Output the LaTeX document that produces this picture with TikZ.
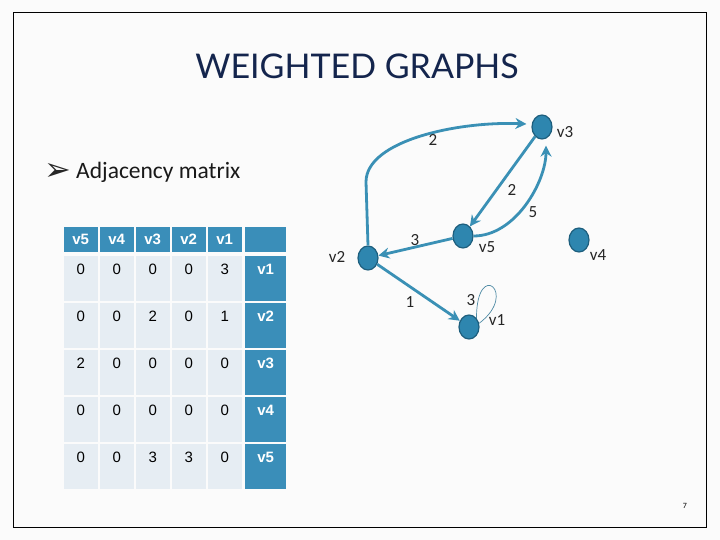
\documentclass[tikz,border=0pt]{standalone}
\usepackage{fontspec}
\setmainfont{Carlito}
\newfontfamily\arialf{Liberation Sans}
\newfontfamily\titlef{Lato}
\newfontfamily\symf{DejaVu Sans}
\usetikzlibrary{arrows.meta,shapes.geometric}
\definecolor{edgeblue}{HTML}{3A90B5}
\definecolor{nodefill}{HTML}{2E86AF}
\definecolor{nodedraw}{HTML}{1D5E7D}
\definecolor{hdrblue}{HTML}{3A8EB9}
\definecolor{cellgray}{HTML}{E6EDF3}
\definecolor{titlenavy}{HTML}{14254D}
\tikzset{
  vert/.style={ellipse, fill=nodefill, draw=nodedraw, line width=1.2pt, minimum width=20pt, minimum height=24pt, inner sep=0pt},
  vlab/.style={font=\fontsize{17}{19}\selectfont, text=black!85, inner sep=0pt},
  wlab/.style={font=\fontsize{17}{19}\selectfont, text=black!85, inner sep=0pt},
  edge/.style={draw=edgeblue, line width=2.8pt, -{Stealth[length=11pt,width=11pt]}},
  loopline/.style={draw=edgeblue!70!gray, line width=0.7pt},
  cellbase/.style={anchor=north west, inner sep=0pt, minimum width=34pt, text height=18pt},
  hdr/.style={cellbase, fill=hdrblue, text=white, minimum height=25pt, text depth=7pt, font=\arialf\bfseries\fontsize{15}{17}\selectfont},
  cellb/.style={cellbase, fill=cellgray, text=black, minimum height=45pt, text depth=27pt, font=\arialf\fontsize{15}{17}\selectfont},
  rowh/.style={cellbase, fill=hdrblue, text=white, minimum width=41pt, minimum height=45pt, text depth=27pt, font=\arialf\bfseries\fontsize{15}{17}\selectfont}
}
\begin{document}
\begin{tikzpicture}[x=1pt,y=-1pt]
\useasboundingbox (0,0) rectangle (720,540);
\fill[gray!3] (0,0) rectangle (720,540);
\draw[line width=1pt] (13,13) rectangle (706,527);
% title
\node[font=\titlef\fontsize{34}{40}\selectfont, text=titlenavy] (title) at (357,66) {WEIGHTED GRAPHS};
% bullet
\node[font=\symf\fontsize{32}{34}\selectfont, inner sep=0pt, text=black!85] (bul) at (58,171.5) {➢};
\node[anchor=west, inner sep=0pt, font=\fontsize{23.5}{26}\selectfont, text=black!90] (adj) at (76,172) {Adjacency matrix};
% table header
\foreach \lab [count=\j] in {v5,v4,v3,v2,v1}{
  \node[hdr] (h\j) at ({63.5+(\j-1)*36},226.7) {\lab};
}
\node[hdr, minimum width=41pt] (h6) at (245,226.7) {};
% table body
\foreach \a/\b/\c/\d/\e/\f [count=\i] in {0/0/0/0/3/v1, 0/0/2/0/1/v2, 2/0/0/0/0/v3, 0/0/0/0/0/v4, 0/0/3/3/0/v5}{
  \pgfmathsetmacro\yy{256+(\i-1)*47}
  \node[cellb] (c\i-1) at (63.5,\yy) {\a};
  \node[cellb] (c\i-2) at (99.5,\yy) {\b};
  \node[cellb] (c\i-3) at (135.5,\yy) {\c};
  \node[cellb] (c\i-4) at (171.5,\yy) {\d};
  \node[cellb] (c\i-5) at (207.5,\yy) {\e};
  \node[rowh] (c\i-6) at (245,\yy) {\f};
}
% graph vertices
\node[vert] (v3) at (542,127) {};
\node[vert] (v5) at (463,236) {};
\node[vert] (v2) at (368,258) {};
\node[vert] (v1) at (469,327) {};
\node[vert] (v4) at (579,240) {};
\node[vlab] (lv3) at (565,132) {v3};
\node[vlab] (lv5) at (487,247) {v5};
\node[vlab] (lv2) at (337,257) {v2};
\node[vlab] (lv4) at (598,255) {v4};
\node[vlab] (lv1) at (497,320) {v1};
% edges
\draw[edge] (v2.north) -- (366,182) .. controls (366,140) and (460,121) .. ([shift={(-5,-3)}]v3.west);
\draw[edge] (v3) -- (v5);
\draw[edge, shorten >=6pt] (v5.east) .. controls +(42,0) and +(0,42) .. ([xshift=4pt]v3.south);
\draw[edge] (v5) -- (v2);
\draw[edge] (v2) -- (v1);
\draw[loopline] (v1.50) .. controls +(0,-60) and +(40,-30) .. (v1.20);
% weights
\node[wlab] (w23) at (433,140) {2};
\node[wlab] (w35) at (512,190) {2};
\node[wlab] (w53) at (533,212) {5};
\node[wlab] (w52) at (415,240) {3};
\node[wlab] (w21) at (410,302) {1};
\node[wlab] (w11) at (471,300) {3};
% page number
\node[font=\fontsize{8}{9}\selectfont, inner sep=0pt] (pg) at (685,506) {7};
\end{tikzpicture}
\end{document}
